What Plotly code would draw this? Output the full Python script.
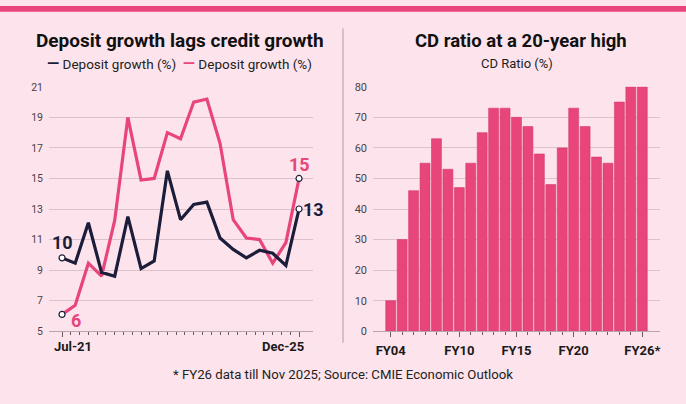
import plotly.graph_objects as go

# ---------------- data ----------------
periods = list(range(19))  # quarterly points Jul-21 ... Dec-25
deposit_growth = [9.8, 9.45, 12.1, 8.85, 8.6, 12.5, 9.1, 9.6, 15.5, 12.3, 13.3, 13.45,
                  11.1, 10.35, 9.8, 10.3, 10.1, 9.3, 13.0]
credit_growth = [6.1, 6.7, 9.45, 8.6, 12.25, 19.0, 14.9, 15.0, 18.0, 17.6, 20.0, 20.2,
                 17.3, 12.3, 11.1, 11.0, 9.45, 10.8, 15.0]
x_labels = ["Jul-21", "Dec-25"]

fy_years = list(range(2004, 2027))
cd_ratio = [10, 30, 46, 55, 63, 53, 47, 55, 65, 73, 73, 70, 67, 58, 48, 60, 73, 67,
            57, 55, 75, 80, 80]
fy_tickvals = [2004, 2010, 2015, 2020, 2026]
fy_ticktext = ["FY04", "FY10", "FY15", "FY20", "FY26*"]

# ---------------- style ----------------
BG = "#fde4ec"
NAVY = "#1b1d3a"
PINK = "#e8457a"
GRID = "#dcc2cd"
AXIS = "#b9a3ad"
TICK = "#6b5d63"
FONT = "Roboto"

W, H = 686, 404
def px_x(p):
    return p / W
def px_y(p):
    return 1 - p / H

ydom = [px_y(336), px_y(83.5)]

fig = go.Figure()

fig.add_trace(go.Scatter(x=periods, y=credit_growth, mode="lines",
                         line=dict(color=PINK, width=3.2), showlegend=False,
                         xaxis="x", yaxis="y", cliponaxis=False))
fig.add_trace(go.Scatter(x=periods, y=deposit_growth, mode="lines",
                         line=dict(color=NAVY, width=3.2), showlegend=False,
                         xaxis="x", yaxis="y", cliponaxis=False))
# end markers
end_x = [periods[0], periods[-1], periods[0], periods[-1]]
end_y = [deposit_growth[0], deposit_growth[-1], credit_growth[0], credit_growth[-1]]
fig.add_trace(go.Scatter(x=end_x, y=end_y, mode="markers",
                         marker=dict(size=6, color="white", line=dict(color=NAVY, width=1.2)),
                         showlegend=False, xaxis="x", yaxis="y", cliponaxis=False))

fig.add_trace(go.Bar(x=fy_years, y=cd_ratio, width=0.87,
                     marker=dict(color=PINK, line=dict(color="#d33a6d", width=0.6)),
                     showlegend=False, xaxis="x2", yaxis="y2"))

left_range = [-0.99, 19.06]
right_range = [2002.45, 2027.55]

fig.update_layout(
    width=W, height=H, margin=dict(l=0, r=0, t=0, b=0),
    paper_bgcolor=BG, plot_bgcolor=BG,
    font=dict(family=FONT, color="#222"),
    xaxis=dict(domain=[px_x(49), px_x(313)], range=left_range,
               showgrid=False, zeroline=False, showline=True, linecolor=AXIS, linewidth=1,
               tickmode="array", tickvals=[periods[0], periods[-1]], ticks="outside",
               ticklen=5, tickcolor=TICK, tickwidth=1, showticklabels=False,
               minor=dict(tickmode="array", tickvals=[i * 2 / 3 for i in range(28)],
                          ticks="outside", ticklen=3, tickcolor=TICK, tickwidth=1, showgrid=False)),
    yaxis=dict(domain=ydom, range=[5, 21], tickmode="array",
               tickvals=list(range(5, 22, 2)), showgrid=True, gridcolor=GRID, gridwidth=1,
               zeroline=False, ticks="", ticklabelstandoff=5,
               tickfont=dict(size=10.5, color="#4a4146", family=FONT)),
    xaxis2=dict(domain=[px_x(373), px_x(660)], range=right_range, anchor="y2",
                showgrid=False, zeroline=False, showline=True, linecolor=AXIS, linewidth=1,
                tickmode="array", tickvals=fy_tickvals, ticktext=fy_ticktext,
                ticks="outside", ticklen=5, tickcolor=TICK, tickwidth=1, ticklabelstandoff=2,
                tickfont=dict(size=13, color="#1a1a1a", family=FONT, weight="bold"),
                minor=dict(tickmode="array", tickvals=fy_years, ticks="outside", ticklen=3,
                           tickcolor=TICK, tickwidth=1, showgrid=False)),
    yaxis2=dict(domain=ydom, range=[0, 80], anchor="x2", tickmode="array",
                tickvals=list(range(0, 81, 10)), showgrid=True, gridcolor=GRID, gridwidth=1,
                zeroline=False, ticks="", ticklabelstandoff=5,
                tickfont=dict(size=11, color="#4a4146", family=FONT)),
    bargap=0.12,
)

shapes = [
    dict(type="rect", xref="paper", yref="paper", x0=0, x1=1, y0=px_y(6), y1=1,
         fillcolor=PINK, line=dict(width=0), layer="above"),
    dict(type="line", xref="paper", yref="paper", x0=px_x(343), x1=px_x(343),
         y0=px_y(348), y1=px_y(23), line=dict(color="#cdb0bd", width=1.5)),
]
fig.update_layout(shapes=shapes)

ann = []
def text(x, y, s, size, color="#111", bold=False, xanchor="center", yanchor="middle"):
    ann.append(dict(xref="paper", yref="paper", x=px_x(x), y=px_y(y), text=s,
                    showarrow=False, xanchor=xanchor, yanchor=yanchor,
                    font=dict(family=FONT, size=size, color=color,
                              weight="bold" if bold else "normal")))

text(180, 36, "Deposit growth lags credit growth", 19, "#111", bold=True)
text(180, 59, f"<span style='color:{NAVY};font-size:16px'><b>—</b></span> Deposit growth (%)  "
              f"<span style='color:{PINK};font-size:16px'><b>—</b></span> Deposit growth (%)", 13.5, "#222")
text(521, 36, "CD ratio at a 20-year high", 18.5, "#111", bold=True)
text(517, 59, "CD Ratio (%)", 13, "#222")
text(343, 381, "* FY26 data till Nov 2025; Source: CMIE Economic Outlook", 13.2, "#222")

# x labels of left chart
ann.append(dict(xref="x", yref="paper", x=periods[0], y=ydom[0], text=x_labels[0],
                showarrow=False, xanchor="left", yanchor="top", xshift=-10, yshift=-6,
                font=dict(family=FONT, size=13, color="#1a1a1a", weight="bold")))
ann.append(dict(xref="x", yref="paper", x=periods[-1], y=ydom[0], text=x_labels[1],
                showarrow=False, xanchor="right", yanchor="top", xshift=7, yshift=-6,
                font=dict(family=FONT, size=13, color="#1a1a1a", weight="bold")))

# value labels
lab_font = lambda c: dict(family=FONT, size=18, color=c, weight="bold")
ann.append(dict(xref="x", yref="y", x=periods[0], y=deposit_growth[0],
                text=f"{round(deposit_growth[0])}", showarrow=False, xanchor="center",
                yanchor="bottom", yshift=3, font=lab_font(NAVY)))
ann.append(dict(xref="x", yref="y", x=periods[0], y=credit_growth[0],
                text=f"{round(credit_growth[0])}", showarrow=False, xanchor="left",
                yanchor="middle", xshift=7, yshift=-6, font=lab_font(PINK)))
ann.append(dict(xref="x", yref="y", x=periods[-1], y=credit_growth[-1],
                text=f"{round(credit_growth[-1])}", showarrow=False, xanchor="center",
                yanchor="bottom", yshift=1, font=lab_font(PINK)))
ann.append(dict(xref="x", yref="y", x=periods[-1], y=deposit_growth[-1],
                text=f"{round(deposit_growth[-1])}", showarrow=False, xanchor="left",
                yanchor="middle", xshift=2, font=lab_font(NAVY)))

fig.update_layout(annotations=ann)
fig.write_html("out.html")
